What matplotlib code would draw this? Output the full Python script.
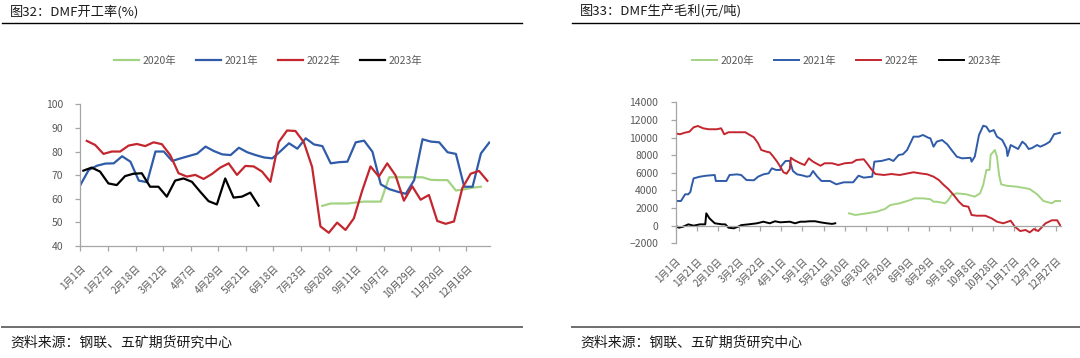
import numpy as np
import matplotlib
matplotlib.use("Agg")
import matplotlib.pyplot as plt
from matplotlib.lines import Line2D

plt.rcParams['font.family'] = ['Noto Sans CJK SC', 'DejaVu Sans']

# ---------------- données ----------------
# graphique gauche : taux de fonctionnement DMF (%), données hebdomadaires
left_ticklabels = ['1月1日', '1月27日', '2月18日', '3月12日', '4月7日', '4月29日', '5月21日',
                   '6月18日', '7月23日', '8月20日', '9月11日', '10月7日', '10月29日',
                   '11月20日', '12月16日']
rate_2020_start = 29.0   # semaine de début sur l'axe
rate_2020 = [57, 58, 58, 58, 58.4, 58.8, 58.8, 58.8, 69.1, 69.1, 69.1, 69.1, 69.1, 68,
             67.9, 67.9, 63.5, 64, 64.7, 65.1]
rate_2021_start = 0.0
rate_2021 = [65.8, 72.2, 74, 74.9, 75, 78, 75.7, 67.7, 67, 80,
             80, 76, 77.1, 78.1, 79.1, 82.1, 80.2, 78.8, 78.5, 81.6,
             79.7, 78.5, 77.5, 77.1, 80.2, 83.5, 81.2, 85.6, 83, 82.3,
             75, 75.5, 75.7, 83.9, 84.6, 79.9, 66.1, 64.1, 63, 62.1,
             67.9, 85.2, 84.2, 83.9, 79.7, 79, 65.1, 65.1, 79.2, 83.8]
rate_2022_start = 0.77
rate_2022 = [84.5, 82.8, 79, 80, 80, 82.5, 83.2, 82.3, 83.9, 83.1,
             78.5, 70.8, 69.4, 70.1, 68.4, 70.5, 73.2, 75, 70.1, 73.9,
             73.7, 71.5, 67.2, 84, 88.9, 88.7, 84, 73.5, 48.3, 45.6,
             49.9, 46.8, 51.7, 63.4, 73.7, 69.4, 75, 69.9, 59.2, 65.3,
             59.6, 61.6, 50.6, 49.4, 50.4, 64.5, 70.6, 71.8, 67.6]
rate_2023_start = 0.36
rate_2023 = [71.9, 73.2, 71.5, 66.5, 65.8, 69.6, 70.6, 70.8, 65.1, 65.1, 60.9, 67.7,
             68.6, 67.2, 63, 59, 57.6, 68.6, 60.5, 60.9, 62.6, 57.1]

# graphique droit : marge brute de production DMF (元/吨), jour de l'année
right_ticklabels = ['1月1日', '1月21日', '2月10日', '3月2日', '3月22日', '4月11日', '5月1日',
                    '5月21日', '6月10日', '6月30日', '7月20日', '8月9日', '8月29日', '9月18日',
                    '10月8日', '10月28日', '11月17日', '12月7日', '12月27日']
margin_2020_day = [164, 170, 181, 190, 198, 203, 212, 222, 226, 234,
                   241, 244, 247, 255, 258, 261, 266, 275, 283, 288,
                   291, 294, 297, 298, 302, 304, 306, 308, 313, 323,
                   335, 342, 348, 356, 359, 364]
margin_2020 = [1400, 1210, 1400, 1580, 1890, 2340, 2540, 2910, 3100, 3100,
               3000, 2720, 2720, 2540, 2910, 3480, 3670, 3560, 3290, 3670,
               4610, 6320, 6320, 8020, 8590, 7830, 5750, 4690, 4530, 4420,
               4160, 3560, 2800, 2540, 2800, 2800]
margin_2021_day = [0, 5, 9, 12, 14, 15, 17, 23, 29, 37,
                   38, 48, 51, 58, 62, 67, 74, 78, 83, 88,
                   91, 95, 99, 100, 104, 108, 111, 115, 118, 121,
                   124, 127, 130, 134, 138, 146, 152, 159, 168, 173,
                   178, 186, 188, 195, 202, 206, 211, 215, 219, 225,
                   230, 234, 239, 241, 244, 247, 252, 257, 261, 266,
                   271, 279, 280, 283, 287, 291, 294, 297, 301, 304,
                   309, 313, 314, 317, 320, 324, 328, 331, 334, 337,
                   342, 345, 350, 354, 358, 364]
margin_2021 = [2800, 2800, 3560, 3560, 3850, 4420, 5370, 5560, 5670, 5750,
               5070, 5070, 5750, 5820, 5750, 5180, 5150, 5560, 5820, 5940,
               6510, 6320, 6320, 6770, 7340, 7350, 6200, 5820, 5750, 5670,
               5560, 5630, 6200, 5560, 5070, 5070, 4690, 4920, 4920, 5670,
               5450, 5560, 7260, 7350, 7570, 7340, 8020, 8100, 8590, 10100,
               10100, 10290, 9980, 9910, 8960, 9530, 9720, 9230, 8590, 7830,
               7640, 7700, 7260, 7830, 10290, 11340, 11230, 10660, 10850, 10100,
               9720, 8780, 7900, 9150, 8960, 8700, 9530, 9230, 8700, 8800,
               9150, 8960, 9230, 9530, 10370, 10550]
margin_2022_day = [0, 4, 9, 13, 17, 21, 26, 31, 39, 43,
                   46, 50, 58, 66, 69, 74, 78, 81, 86, 89,
                   92, 96, 99, 102, 105, 108, 109, 112, 115, 118,
                   122, 126, 130, 137, 141, 148, 154, 160, 167, 171,
                   178, 181, 185, 189, 197, 204, 212, 220, 225, 231,
                   238, 244, 249, 253, 258, 263, 268, 272, 277, 280,
                   285, 293, 299, 304, 310, 317, 321, 326, 331, 335,
                   339, 343, 350, 356, 361, 364]
margin_2022 = [10480, 10370, 10560, 10660, 11160, 11310, 11050, 10940, 10940, 11050,
               10370, 10600, 10600, 10600, 10370, 10030, 9350, 8590, 8390, 8320,
               7900, 7260, 6690, 6060, 5900, 6430, 7710, 7450, 7260, 7080,
               6880, 7640, 7260, 6800, 7080, 7080, 6880, 7080, 7150, 7450,
               7530, 7080, 6430, 5860, 5750, 5860, 5750, 5940, 6060, 5940,
               5830, 5560, 5180, 4690, 4160, 3480, 2720, 2260, 2150, 1210,
               1130, 1130, 830, 450, 270, 560, -120, -610, -490, -760,
               -380, -610, 270, 610, 610, 0]
margin_2023_day = [0, 3, 7, 12, 17, 23, 28, 29, 32, 37,
                   44, 47, 50, 55, 59, 62, 69, 77, 83, 89,
                   94, 99, 108, 113, 118, 122, 127, 132, 137, 143,
                   148, 151]
margin_2023 = [0, -230, -120, 150, 0, 150, 150, 1400, 830, 270,
               150, 150, -230, -300, -120, 60, 150, 270, 450, 270,
               500, 380, 450, 270, 450, 450, 500, 500, 380, 270,
               200, 270]

years = ['2020年', '2021年', '2022年', '2023年']
colors = ['#A3D383', '#2F5BA8', '#C3262E', '#000000']
axis_gray = '#A6A6A6'
text_gray = '#595959'

fig = plt.figure(figsize=(10.8, 3.58), dpi=100)

# ---------------- graphique gauche ----------------
ax1 = fig.add_axes([0.0744, 0.3128, 0.3794, 0.3959])
series_left = [(rate_2020_start, rate_2020), (rate_2021_start, rate_2021),
               (rate_2022_start, rate_2022), (rate_2023_start, rate_2023)]
for (start, vals), c, lab in zip(series_left, colors, years):
    x = start + np.arange(len(vals))
    ax1.plot(x, vals, color=c, lw=1.6, label=lab, solid_joinstyle='round')

ax1.set_ylim(40, 100)
ax1.set_yticks(np.arange(40, 101, 10))
ax1.set_xlim(0, 49.1)
tick_step = 3.305
ax1.set_xticks(np.arange(len(left_ticklabels)) * tick_step)
ax1.set_xticklabels(left_ticklabels, rotation=45, ha='right', rotation_mode='anchor')

# ---------------- graphique droit ----------------
ax2 = fig.add_axes([0.6256, 0.3204, 0.3572, 0.3939])
series_right = [(margin_2020_day, margin_2020), (margin_2021_day, margin_2021),
                (margin_2022_day, margin_2022), (margin_2023_day, margin_2023)]
for (d, vals), c, lab in zip(series_right, colors, years):
    ax2.plot(d, vals, color=c, lw=1.4, label=lab, solid_joinstyle='round')

ax2.set_ylim(-2000, 14000)
ax2.set_yticks(np.arange(-2000, 14001, 2000))
ax2.set_xlim(0, 365)
right_ticks = np.arange(len(right_ticklabels)) * 20
ax2.set_xticks(right_ticks)
ax2.tick_params(axis='x', labelbottom=False)
ax2.spines['bottom'].set_position(('data', 0))
sec = ax2.secondary_xaxis('bottom')
sec.set_xticks(right_ticks)
sec.set_xticklabels(right_ticklabels, rotation=45, ha='right', rotation_mode='anchor')
sec.tick_params(axis='x', length=0, pad=9, labelsize=7, labelcolor=text_gray)
sec.spines['bottom'].set_visible(False)

# style commun
for ax in [ax1, ax2]:
    for s in ['top', 'right']:
        ax.spines[s].set_visible(False)
    for s in ['left', 'bottom']:
        ax.spines[s].set_color(axis_gray)
        ax.spines[s].set_linewidth(0.9)
    ax.tick_params(axis='both', direction='out', length=3.5, width=0.9, color=axis_gray,
                   labelcolor=text_gray)
    ax.tick_params(axis='y', labelsize=7.5, pad=9)
ax1.tick_params(axis='x', labelsize=7, pad=9)

# légendes
leg_kw = dict(ncol=4, frameon=False, fontsize=7.5, handlelength=2.4, handletextpad=0.35,
              columnspacing=1.9, labelcolor=text_gray, loc='center',
              bbox_transform=fig.transFigure)
ax1.legend(bbox_to_anchor=(0.2485, 0.8296), **leg_kw)
ax2.legend(bbox_to_anchor=(0.7838, 0.8296), **leg_kw)

# titres, filets et sources
fig.text(10 / 1080, 1 - 12 / 358, '图32：DMF开工率(%)', fontsize=9.5, va='center', ha='left',
         color='#1A1A1A', fontweight='medium')
fig.text(580 / 1080, 1 - 12 / 358, '图33：DMF生产毛利(元/吨)', fontsize=9.5, va='center', ha='left',
         color='#1A1A1A', fontweight='medium')
y_top = 1 - 23.3 / 358
y_bot = 1 - 327.3 / 358
fig.add_artist(Line2D([2 / 1080, 522 / 1080], [y_top, y_top], color='black', lw=1))
fig.add_artist(Line2D([572 / 1080, 1.0], [y_top, y_top], color='black', lw=1))
fig.add_artist(Line2D([2 / 1080, 522 / 1080], [y_bot, y_bot], color='#6E6E6E', lw=1.4))
fig.add_artist(Line2D([572 / 1080, 1.0], [y_bot, y_bot], color='#6E6E6E', lw=1.4))
fig.text(10 / 1080, 1 - 342.5 / 358, '资料来源：钢联、五矿期货研究中心', fontsize=10, va='center',
         ha='left', color='#1A1A1A')
fig.text(580 / 1080, 1 - 342.5 / 358, '资料来源：钢联、五矿期货研究中心', fontsize=10, va='center',
         ha='left', color='#1A1A1A')

fig.savefig('out.png', dpi=100)
